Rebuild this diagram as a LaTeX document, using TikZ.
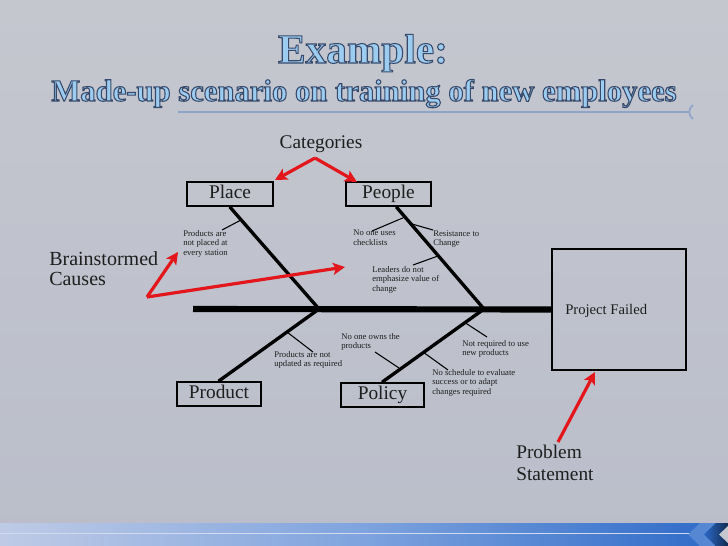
\documentclass[tikz,border=0pt]{standalone}
\usepackage{fontspec}
\setmainfont{Liberation Serif}
\usetikzlibrary{arrows.meta}
\definecolor{bgtop}{HTML}{C5C7CF}
\definecolor{bgbot}{HTML}{BABECA}
\definecolor{redarrow}{HTML}{E3161C}
\definecolor{titleblue}{HTML}{9CCCF0}
\definecolor{lineblue}{HTML}{8EA4C9}
\definecolor{barleft}{HTML}{BFCBE6}
\definecolor{barmid}{HTML}{7EA3DE}
\definecolor{barright}{HTML}{2C69C8}
\definecolor{inktext}{HTML}{1E1E1E}
\newcommand{\outlinetext}[1]{\special{pdf:literal direct 0.22 0.29 0.42 RG 0.8 w 2 Tr}#1\special{pdf:literal direct 0 Tr}}
\begin{document}
\begin{tikzpicture}[x=0.75pt,y=-0.75pt,
  catbox/.style={draw=black, line width=1.7pt, inner sep=0pt, minimum height=18pt,
    text height=9.8pt, text depth=3.4pt, font=\fontsize{14.5}{16}\selectfont, text=inktext},
  bone/.style={draw=black, line width=2.5pt, line cap=round},
  spine/.style={draw=black, line width=4.6pt},
  twig/.style={draw=black, line width=0.8pt},
  smalltext/.style={inner sep=0pt, align=left, anchor=north west,
    font=\fontsize{6.5}{7.1}\selectfont, text=inktext},
  biglabel/.style={inner sep=0pt, align=left, anchor=north west, text=inktext},
  redarr/.style={draw=redarrow, line width=2.4pt, -{Stealth[length=9pt,width=9pt,inset=2pt]}},
  titletext/.style={inner sep=0pt, anchor=base, text=titleblue}
]
\useasboundingbox (0,0) rectangle (728,546);
% background
\shade[top color=bgtop, bottom color=bgbot] (0,0) rectangle (728,546);
% bottom bar
\shade[left color=barleft, right color=barright, middle color=barmid] (0,523) rectangle (728,546);
\draw[color=barleft!70!white, line width=0.6pt] (0,533) -- (690,533);
\fill[color=barright!80!white] (700,523) -- (688,534.5) -- (700,546) -- (716,546) -- (704,534.5) -- (716,523) -- cycle;
\shade[left color=barright, right color=black!60!barright] (716,523) -- (704,534.5) -- (716,546) -- (728,546) -- (728,523) -- cycle;
\fill[color=bgtop] (728,526) -- (719,534.5) -- (728,543) -- cycle;
% title
\node[titletext, font=\bfseries\fontsize{31}{34}\selectfont] (title) at (363,63) {\outlinetext{Example:}};
\node[titletext, font=\bfseries\fontsize{23}{26}\selectfont] (subtitle) at (364,101) {\outlinetext{Made-up scenario on training of new employees}};
\draw[lineblue, line width=1.3pt] (178,112) -- (690,112);
\draw[lineblue, line width=1.3pt] (693,105) .. controls (688,109) and (688,115) .. (693,119);

% effect box
\node[draw=black, line width=1.6pt, minimum width=100.5pt, minimum height=90.75pt, inner sep=0pt] (effect) at (619,309.5) {};
\node[inner sep=0pt, anchor=base west, font=\fontsize{11}{13}\selectfont, text=inktext] (pf) at (565,314) {Project Failed};

% category boxes
\node[catbox, minimum width=64.5pt] (place) at (230,194) {Place};
\node[catbox, minimum width=63.75pt] (people) at (388.5,194) {People};
\node[catbox, minimum width=63pt] (product) at (219,394) {Product};
\node[catbox, minimum width=62.25pt] (policy) at (382.5,395) {Policy};

% junctions
\coordinate (j1) at (319,309);
\coordinate (j2) at (484,309);
\coordinate (tail) at (193,309);

% spine and bones
\draw[spine] (tail) -- (effect.west);
\draw[bone] ([xshift=0pt]place.south) -- (j1);
\draw[bone] ([xshift=6pt]people.south) -- (j2);
\draw[bone] (product.north) -- (j1);
\draw[bone] (policy.north) -- (j2);

% causes text
\node[smalltext] (t1) at (183,230) {Products are\\not placed at\\every station};
\node[smalltext] (t2) at (353,230) {No one uses\\checklists};
\node[smalltext] (t3) at (433,230) {Resistance to\\Change};
\node[smalltext] (t4) at (372,266) {Leaders do not\\emphasize value of\\change};
\node[smalltext] (t5) at (274,351) {Products are not\\updated as required};
\node[smalltext] (t6) at (341,333) {No one owns the\\products};
\node[smalltext] (t7) at (432,369) {No schedule to evaluate\\success or to adapt\\changes required};
\node[smalltext] (t8) at (462,340) {Not required to use\\new products};

% twigs
\coordinate (b1) at (241,220); \coordinate (e1) at (222,230);
\coordinate (b2) at (405,217); \coordinate (e2) at (372,231);
\coordinate (b3) at (412,224); \coordinate (e3) at (433,230);
\coordinate (b4) at (438,256); \coordinate (e4) at (413,265);
\coordinate (b5) at (287,332); \coordinate (e5) at (313,352);
\coordinate (b6) at (399,368); \coordinate (e6) at (375,352);
\coordinate (b7) at (423,352); \coordinate (e7) at (448,370);
\coordinate (b8) at (464,322); \coordinate (e8) at (487,337);
\draw[twig] (b1) -- (e1);
\draw[twig] (b2) -- (e2);
\draw[twig] (b3) -- (e3);
\draw[twig] (b4) -- (e4);
\draw[twig] (b5) -- (e5);
\draw[twig] (b6) -- (e6);
\draw[twig] (b7) -- (e7);
\draw[twig] (b8) -- (e8);

% annotation labels
\node[inner sep=0pt, anchor=base, font=\fontsize{14.5}{16}\selectfont, text=inktext] (cats) at (321,148) {Categories};
\node[biglabel, font=\fontsize{15}{15}\selectfont] (brain) at (49,251) {Brainstormed\\Causes};
\node[biglabel, font=\fontsize{14.5}{16.5}\selectfont] (prob) at (516,445) {Problem\\Statement};

% red arrows
\coordinate (catsrc) at (315,158);
\coordinate (catplace) at (275,180);
\coordinate (catpeople) at (357,182);
\coordinate (brsrc) at (147,297);
\coordinate (brt1) at (178,252);
\coordinate (brt4) at (345,267);
\coordinate (prsrc) at (558,442);
\coordinate (preff) at (595,372);
\draw[redarr] (catsrc) -- (catplace);
\draw[redarr] (catsrc) -- (catpeople);
\draw[redarr] (brsrc) -- (brt1);
\draw[redarr] (brsrc) -- (brt4);
\draw[redarr] (prsrc) -- (preff);
\end{tikzpicture}
\end{document}
